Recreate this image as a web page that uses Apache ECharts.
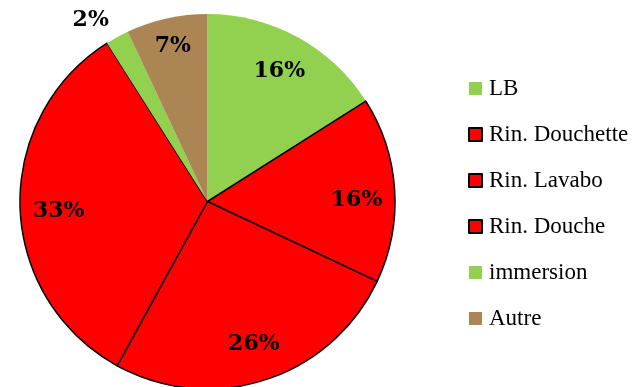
<!DOCTYPE html>
<html>
<head>
<meta charset="utf-8">
<script src="https://cdn.jsdelivr.net/npm/echarts@6/dist/echarts.min.js"></script>
<style>
  html, body { margin: 0; padding: 0; background: #ffffff; }
  #chart { width: 635px; height: 387px; }
</style>
</head>
<body>
<div id="chart"></div>
<script>
// Share of each category (percent)
const categories = ['LB', 'Rin. Douchette', 'Rin. Lavabo', 'Rin. Douche', 'immersion', 'Autre'];
const values = [16, 16, 26, 33, 2, 7];
const colors = ['#92D050', '#FF0000', '#FF0000', '#FF0000', '#92D050', '#AB8553'];
const outlined = [false, true, true, true, false, false];

const CX = 207.5, CY = 201.5, R = 187.5;
// Label distance from the centre (fraction of the radius) and angular nudge in degrees
const labelRadius = [0.795, 0.795, 0.8, 0.795, 1.15, 0.85];
const labelTurn = [0, 3, 0, -2, -4, 0];

const total = values.reduce((a, b) => a + b, 0);
const starts = [];
values.reduce((acc, v, i) => { starts[i] = acc; return acc + v; }, 0);

const chart = echarts.init(document.getElementById('chart'), null, { renderer: 'canvas' });

chart.setOption({
  backgroundColor: '#ffffff',
  animation: false,
  legend: {
    orient: 'vertical',
    left: 468,
    top: 77,
    padding: 0,
    itemWidth: 13,
    itemHeight: 13,
    itemGap: 23,
    icon: 'rect',
    textStyle: {
      fontFamily: 'Liberation Serif',
      fontSize: 23,
      lineHeight: 20,
      height: 20,
      color: '#000000',
      padding: [0, 0, 0, 2]
    },
    data: categories
  },
  series: [{
    type: 'pie',
    center: [CX, CY],
    radius: [0, R],
    startAngle: 90,
    clockwise: true,
    avoidLabelOverlap: false,
    label: {
      show: true,
      position: 'inside',
      formatter: p => p.value + '%',
      fontFamily: 'DejaVu Serif',
      fontWeight: 'bold',
      fontSize: 22,
      color: '#000000'
    },
    labelLine: { show: false },
    emphasis: { disabled: true },
    labelLayout: function (p) {
      const i = p.dataIndex;
      const mid = (starts[i] + values[i] / 2) / total * 2 * Math.PI + labelTurn[i] * Math.PI / 180;
      const r = R * labelRadius[i];
      return {
        x: CX + r * Math.sin(mid),
        y: CY - r * Math.cos(mid),
        align: 'center',
        verticalAlign: 'middle'
      };
    },
    data: categories.map((name, i) => ({
      name: name,
      value: values[i],
      itemStyle: {
        color: colors[i],
        borderColor: outlined[i] ? '#000000' : colors[i],
        borderWidth: outlined[i] ? 1.5 : 0
      }
    }))
  }]
});
</script>
</body>
</html>
